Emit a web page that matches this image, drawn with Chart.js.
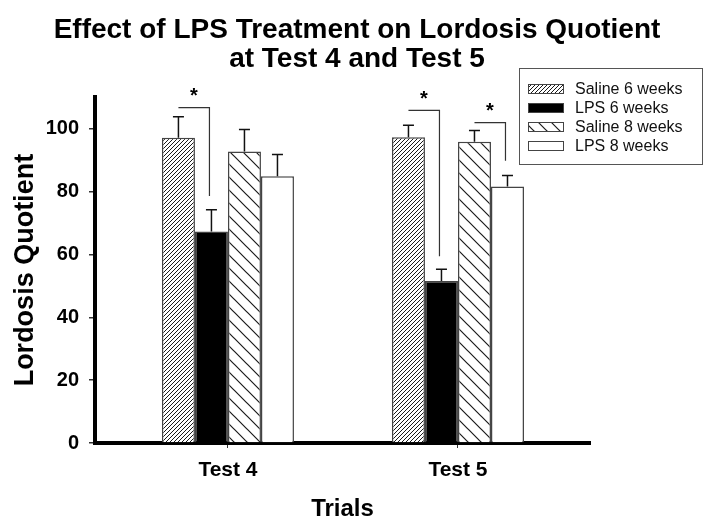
<!DOCTYPE html>
<html>
<head>
<meta charset="utf-8">
<script src="https://cdn.jsdelivr.net/npm/chart.js@4.4.1/dist/chart.umd.min.js"></script>
<style>
    html, body { margin: 0; padding: 0; background: #fff; }
</style>
</head>
<body>
<canvas id="lqChart" width="714" height="532"></canvas>
<script>
// Dados do gráfico
const trials = ['Test 4', 'Test 5'];
const groups = ['Saline 6 weeks', 'LPS 6 weeks', 'Saline 8 weeks', 'LPS 8 weeks'];
const saline6 = [97.1, 97.3];
const lps6 = [67.3, 51.5];
const saline8 = [92.7, 95.8];
const lps8 = [84.9, 81.6];
const saline6Err = [6.7, 3.8];
const lps6Err = [6.9, 3.8];
const saline8Err = [7.0, 3.6];
const lps8Err = [6.9, 3.5];
const yTicks = [0, 20, 40, 60, 80, 100];

// Colchetes de significância: teste, grupo inicial, grupo final, altura, fim da descida
const sigTrial = [0, 1, 1];
const sigFrom = [0, 0, 2];
const sigTo = [1, 1, 3];
const sigTop = [106.7, 105.8, 101.9];
const sigDrop = [78.6, 59.4, 89.8];

const values = [saline6, lps6, saline8, lps8];
const errors = [saline6Err, lps6Err, saline8Err, lps8Err];
const FONT = '"Liberation Sans", Arial, sans-serif';

const canvas = document.getElementById('lqChart');
const ctx = canvas.getContext('2d');

// Padrões hachurados
function hatch(size, dir, lw) {
    const c = document.createElement('canvas');
    c.width = size; c.height = size;
    const g = c.getContext('2d');
    g.fillStyle = '#fff';
    g.fillRect(0, 0, size, size);
    g.strokeStyle = '#1a1a1a';
    g.lineWidth = lw;
    g.beginPath();
    if (dir === '/') {
        g.moveTo(-1, size + 1); g.lineTo(size + 1, -1);
        g.moveTo(-1, 1); g.lineTo(1, -1);
        g.moveTo(size - 1, size + 1); g.lineTo(size + 1, size - 1);
    } else {
        g.moveTo(-1, -1); g.lineTo(size + 1, size + 1);
        g.moveTo(size - 1, -1); g.lineTo(size + 1, 1);
        g.moveTo(-1, size - 1); g.lineTo(1, size + 1);
    }
    g.stroke();
    return ctx.createPattern(c, 'repeat');
}

const fills = [hatch(4, '/', 1), '#000', hatch(13, '\\', 1.2), '#fff'];

// Barras de erro e colchetes
const extrasPlugin = {
    id: 'extras',
    afterDatasetsDraw(chart) {
        const c = chart.ctx;
        const y = chart.scales.y;
        c.save();
        c.strokeStyle = '#111';
        c.lineWidth = 1.5;
        values.forEach((vals, di) => {
            const meta = chart.getDatasetMeta(di);
            meta.data.forEach((bar, i) => {
                const top = y.getPixelForValue(vals[i] + errors[di][i]);
                c.beginPath();
                c.moveTo(bar.x, bar.y);
                c.lineTo(bar.x, top);
                c.moveTo(bar.x - 5.5, top);
                c.lineTo(bar.x + 5.5, top);
                c.stroke();
            });
        });
        c.strokeStyle = '#333';
        c.lineWidth = 1.2;
        c.fillStyle = '#000';
        c.font = 'bold 20px ' + FONT;
        c.textAlign = 'center';
        c.textBaseline = 'middle';
        sigTrial.forEach((t, k) => {
            const a = chart.getDatasetMeta(sigFrom[k]).data[t];
            const b = chart.getDatasetMeta(sigTo[k]).data[t];
            const yTop = y.getPixelForValue(sigTop[k]);
            const yEnd = y.getPixelForValue(sigDrop[k]);
            const bx = b.x - 2;
            c.beginPath();
            c.moveTo(a.x, yTop);
            c.lineTo(bx, yTop);
            c.lineTo(bx, yEnd);
            c.stroke();
            c.fillText('*', (a.x + bx) / 2, yTop - 11);
        });
        c.restore();
    }
};

// Legenda com moldura
const legendPlugin = {
    id: 'boxLegend',
    afterDraw(chart) {
        const c = chart.ctx;
        c.save();
        c.strokeStyle = '#555';
        c.lineWidth = 1;
        c.strokeRect(519.5, 68.5, 183, 96);
        c.font = '16px ' + FONT;
        c.textBaseline = 'middle';
        c.textAlign = 'left';
        groups.forEach((g, i) => {
            const cy = 89 + i * 19;
            c.fillStyle = fills[i];
            c.fillRect(528, cy - 5, 36, 10);
            c.strokeStyle = '#444';
            c.strokeRect(528.5, cy - 4.5, 35, 9);
            c.fillStyle = '#111';
            c.fillText(g, 575, cy + 1);
        });
        c.restore();
    }
};

new Chart(canvas, {
    type: 'bar',
    data: {
        datasets: groups.map((g, di) => ({
            label: g,
            data: values[di].map((v, i) => ({ x: i + 1, y: v })),
            backgroundColor: fills[di],
            borderColor: '#444',
            borderWidth: 1.5,
            categoryPercentage: 0.574,
            barPercentage: 1.0
        }))
    },
    options: {
        responsive: false,
        animation: false,
        layout: { padding: 0 },
        plugins: {
            legend: { display: false },
            tooltip: { enabled: false },
            title: {
                display: true,
                text: ['Effect of LPS Treatment on Lordosis Quotient', 'at Test 4 and Test 5'],
                color: '#000',
                font: { family: FONT, size: 28, weight: 'bold', lineHeight: 1.04 },
                padding: { top: 16, bottom: 23 }
            }
        },
        scales: {
            x: {
                type: 'linear',
                offset: false,
                min: 0.422,
                max: 2.574,
                afterBuildTicks: (s) => { s.ticks = trials.map((t, i) => ({ value: i + 1 })); },
                afterFit: (s) => { s.height = 89; },
                ticks: {
                    callback: (v) => trials[v - 1],
                    color: '#000',
                    font: { family: FONT, size: 21, weight: 'bold' },
                    padding: 10
                },
                grid: { offset: false, drawOnChartArea: false, tickLength: 5, color: '#333', lineWidth: 1 },
                border: { color: '#000', width: 4 },
                title: {
                    display: true,
                    text: 'Trials',
                    color: '#000',
                    font: { family: FONT, size: 24, weight: 'bold' },
                    padding: { top: 0, bottom: 8 }
                }
            },
            y: {
                min: 0,
                max: 110,
                afterBuildTicks: (s) => { s.ticks = yTicks.map(v => ({ value: v })); },
                afterFit: (s) => { s.width = 95; },
                ticks: {
                    color: '#000',
                    font: { family: FONT, size: 20, weight: 'bold' },
                    padding: 10
                },
                grid: { drawOnChartArea: false, tickLength: 6, color: '#333', lineWidth: 1.5 },
                border: { color: '#000', width: 4 },
                title: {
                    display: true,
                    text: 'Lordosis Quotient',
                    color: '#000',
                    font: { family: FONT, size: 27, weight: 'bold' },
                    padding: { top: 9, bottom: 0 }
                }
            },
            // eixo vazio à direita, só reserva o espaço da legenda
            yRight: {
                position: 'right',
                display: true,
                afterFit: (s) => { s.width = 124; },
                ticks: { display: false },
                grid: { display: false },
                border: { display: false }
            }
        }
    },
    plugins: [extrasPlugin, legendPlugin]
});
</script>
</body>
</html>
